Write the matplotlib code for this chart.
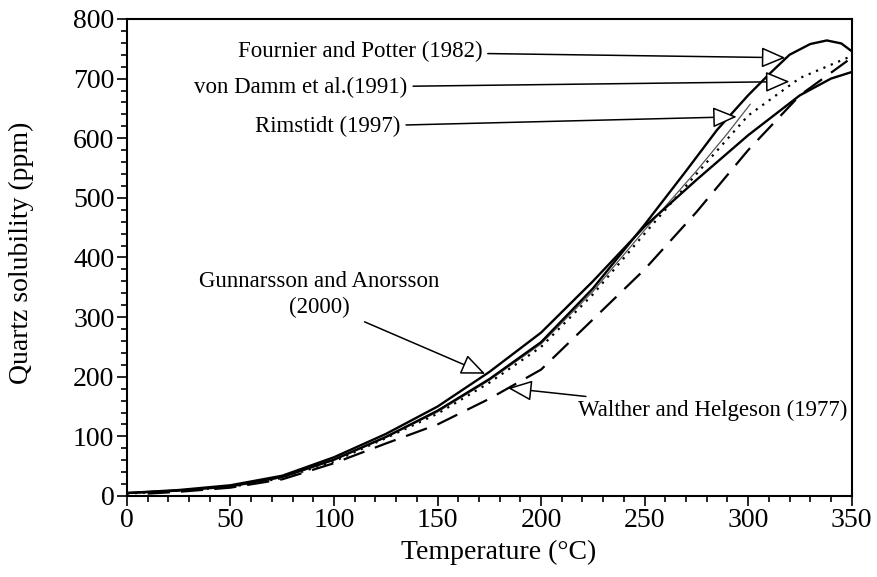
import matplotlib
matplotlib.use("Agg")
import matplotlib.pyplot as plt
from matplotlib.ticker import MultipleLocator

plt.rcParams["font.family"] = ["Liberation Serif", "DejaVu Serif"]

# quartz solubility curves (temperature in degC, solubility in ppm)
t_fournier = [0, 25, 50, 75, 100, 125, 150, 175, 200, 225, 250, 270, 285, 300, 310, 320, 330, 338, 345, 350]
s_fournier = [5, 9, 16, 32, 61, 99, 143, 196, 258, 348, 455, 545, 614, 672, 707, 740, 758, 764, 759, 746]

t_gunnarsson = [0, 25, 50, 75, 100, 125, 150, 175, 200, 225, 250, 275, 300, 325, 340, 350]
s_gunnarsson = [5, 10, 18, 34, 65, 104, 150, 208, 274, 360, 452, 530, 605, 672, 700, 711]

t_vondamm = [0, 25, 50, 75, 100, 125, 150, 175, 200, 225, 250, 275, 300, 325, 350]
s_vondamm = [4, 9, 15, 30, 58, 97, 138, 190, 250, 338, 440, 540, 638, 701, 738]

t_walther = [10, 25, 50, 75, 100, 125, 150, 175, 200, 225, 250, 275, 300, 325, 348]
s_walther = [4, 7, 14, 28, 55, 88, 120, 163, 212, 296, 380, 476, 580, 672, 730]

t_rimstidt = [0, 25, 50, 75, 100, 125, 150, 175, 200, 225, 250, 275, 290, 301]
s_rimstidt = [5, 9, 16, 31, 60, 98, 141, 194, 255, 343, 446, 545, 608, 657]

fig = plt.figure(figsize=(8.78, 5.77), dpi=100)
ax = fig.add_axes([0.1446, 0.1404, 0.8254, 0.8267])

ax.plot(t_walther, s_walther, color="black", lw=1.6, dashes=(10, 5))
ax.plot(t_vondamm, s_vondamm, color="black", lw=1.6, linestyle=(0, (1, 2.6)))
ax.plot(t_rimstidt, s_rimstidt, color="#555555", lw=0.9)
ax.plot(t_gunnarsson, s_gunnarsson, color="black", lw=1.7)
ax.plot(t_fournier, s_fournier, color="black", lw=1.7)

ax.set_xlim(0, 350)
ax.set_ylim(0, 800)
ax.xaxis.set_major_locator(MultipleLocator(50))
ax.xaxis.set_minor_locator(MultipleLocator(10))
ax.yaxis.set_major_locator(MultipleLocator(100))
ax.yaxis.set_minor_locator(MultipleLocator(20))
ax.tick_params(which="both", direction="out", top=False, right=False, width=1.2, labelsize=20)
ax.tick_params(which="major", length=7, pad=2)
ax.tick_params(which="minor", length=4)
for sp in ax.spines.values():
    sp.set_linewidth(1.5)

ax.set_xlabel("Temperature (\u00b0C)", fontsize=20)
ax.set_ylabel("Quartz solubility (ppm)", fontsize=20)
ax.xaxis.set_label_coords(0.513, -0.092)
ax.yaxis.set_label_coords(-0.128, 0.51)

arrow = dict(arrowstyle="-|>,head_length=0.75,head_width=0.32", mutation_scale=20,
             fc="white", ec="black", lw=1.1, shrinkA=2, shrinkB=0)

ax.annotate("Fournier and Potter (1982)", xy=(318, 735), xytext=(112.5, 745),
            fontsize=16.5, ha="center", va="center", arrowprops=arrow)
ax.annotate("von Damm et al.(1991)", xy=(320, 695), xytext=(84, 685),
            fontsize=16.5, ha="center", va="center", arrowprops=arrow)
ax.annotate("Rimstidt (1997)", xy=(294.5, 636), xytext=(97, 619),
            fontsize=16.5, ha="center", va="center", arrowprops=arrow)
ax.annotate("Gunnarsson and Anorsson\n(2000)", xy=(173, 205), xytext=(93, 338),
            fontsize=16.5, ha="center", va="center", linespacing=1.3,
            arrowprops=dict(arrow, relpos=(0.65, 0.0)))
ax.annotate("Walther and Helgeson (1977)", xy=(184, 181), xytext=(283, 144),
            fontsize=16.5, ha="center", va="center", arrowprops=arrow)

fig.savefig("out.png", dpi=100)
